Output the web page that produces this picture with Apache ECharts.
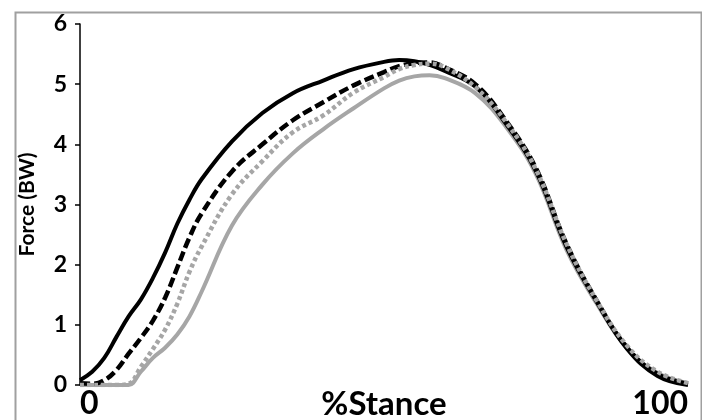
<!DOCTYPE html>
<html>
<head>
<meta charset="utf-8">
<script src="https://cdn.jsdelivr.net/npm/echarts@6/dist/echarts.min.js"></script>
<style>html,body{margin:0;padding:0;background:#fff}#c{width:702px;height:420px}</style>
</head>
<body>
<div id="c"></div>
<script>
// % stance sample positions
const stance = [0, 2, 4, 6, 8, 10, 12, 14, 16, 18, 20, 25, 30, 35, 40, 45, 50, 52.5, 55, 57.5, 60, 65, 70, 75, 80, 85, 90, 95, 100];
// Force (BW) per series
const blackSolid  = [0.08, 0.22, 0.45, 0.8, 1.14, 1.42, 1.78, 2.2, 2.68, 3.08, 3.42, 4.05, 4.52, 4.85, 5.06, 5.25, 5.37, 5.4, 5.38, 5.32, 5.22, 4.96, 4.35, 3.55, 2.3, 1.38, 0.6, 0.15, 0.0];
const blackDashed = [0.03, 0.02, 0.08, 0.25, 0.52, 0.78, 1.07, 1.45, 1.95, 2.45, 2.85, 3.55, 4.0, 4.4, 4.7, 4.98, 5.2, 5.3, 5.35, 5.36, 5.28, 5.0, 4.4, 3.6, 2.35, 1.4, 0.62, 0.18, 0.02];
const grayDotted  = [0.0, 0.0, 0.0, 0.0, 0.02, 0.3, 0.6, 0.92, 1.35, 1.88, 2.3, 3.17, 3.72, 4.2, 4.48, 4.86, 5.12, 5.25, 5.32, 5.34, 5.28, 4.95, 4.38, 3.58, 2.35, 1.4, 0.65, 0.22, 0.03];
const graySolid   = [0.0, 0.0, 0.0, 0.0, 0.0, 0.22, 0.45, 0.62, 0.84, 1.14, 1.55, 2.65, 3.33, 3.85, 4.25, 4.6, 4.93, 5.06, 5.13, 5.15, 5.1, 4.85, 4.3, 3.5, 2.25, 1.35, 0.6, 0.2, 0.03];
const yTicks = [0, 1, 2, 3, 4, 5, 6];
const xTickLabels = ['0', '100'];

const pairs = arr => stance.map((x, i) => [x, arr[i]]);
const FONT = 'Lato';
const GRAY = '#a6a6a6';

const chart = echarts.init(document.getElementById('c'), null, {renderer: 'canvas'});
chart.setOption({
  animation: false,
  backgroundColor: '#fff',
  grid: {left: 80, right: 14, top: 24, bottom: 35, containLabel: false, outerBoundsMode: 'none'},
  graphic: [{
    type: 'rect', left: 13, top: 10, z: -1,
    shape: {width: 686, height: 430},
    style: {fill: 'none', stroke: '#a0a0a0', lineWidth: 2}
  }],
  xAxis: {
    type: 'value', min: 0, max: 100, interval: 100,
    axisLine: {show: false}, axisTick: {show: false}, splitLine: {show: false},
    axisLabel: {
      show: true, color: '#000', fontFamily: FONT, fontWeight: 'bold', fontSize: 32, margin: 3,
      formatter: v => v === 0 ? xTickLabels[0] : (v === 100 ? xTickLabels[1] : ''),
      alignMinLabel: 'left', alignMaxLabel: 'right'
    },
    name: '%Stance', nameLocation: 'middle', nameGap: 3, nameMoveOverlap: false,
    nameTextStyle: {color: '#000', fontFamily: FONT, fontWeight: 'bold', fontSize: 33, verticalAlign: 'top'}
  },
  yAxis: {
    type: 'value', min: yTicks[0], max: yTicks[yTicks.length - 1], interval: 1,
    axisLine: {show: true, lineStyle: {color: '#000', width: 1.5}},
    axisTick: {show: true, inside: false, length: 5, lineStyle: {color: '#000', width: 1.5}},
    splitLine: {show: false},
    axisLabel: {color: '#000', fontFamily: FONT, fontWeight: 'bold', fontSize: 23, margin: 13},
    name: 'Force (BW)', nameLocation: 'middle', nameGap: 42, nameRotate: 90, nameMoveOverlap: false,
    nameTextStyle: {color: '#000', fontFamily: FONT, fontWeight: 'bold', fontSize: 21}
  },
  series: [
    {name: 'gray solid', type: 'line', data: pairs(graySolid), showSymbol: false, smooth: 0.4, z: 1,
     lineStyle: {color: GRAY, width: 4}},
    {name: 'black solid', type: 'line', data: pairs(blackSolid), showSymbol: false, smooth: 0.4, z: 2,
     lineStyle: {color: '#000', width: 4}},
    {name: 'black dashed', type: 'line', data: pairs(blackDashed), showSymbol: false, smooth: 0.4, z: 3,
     lineStyle: {color: '#000', width: 4.5, type: [10, 4]}},
    {name: 'gray dotted', type: 'line', data: pairs(grayDotted), showSymbol: false, smooth: 0.4, z: 4,
     lineStyle: {color: GRAY, width: 4.5, type: [4, 3]}}
  ]
});
</script>
</body>
</html>
